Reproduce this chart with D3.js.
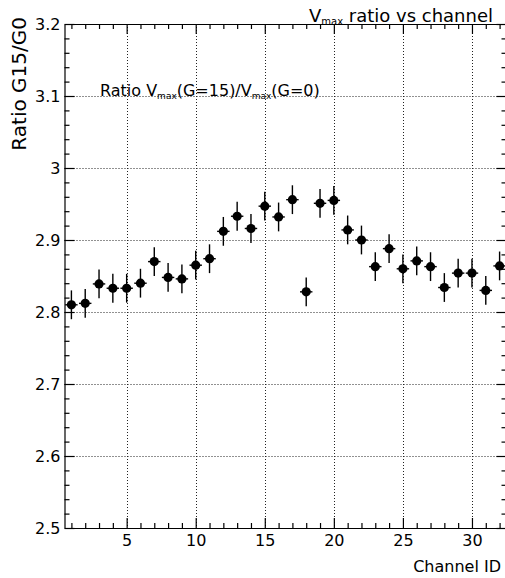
<!DOCTYPE html>
<html>
<head>
<meta charset="utf-8">
<script src="https://cdn.jsdelivr.net/npm/d3@7"></script>
<style>
  body { margin: 0; background: #fff; }
  svg { display: block; }
  text { font-family: "DejaVu Sans", sans-serif; fill: #000; }
</style>
</head>
<body>
<div id="chart-area"></div>
<script>
// channel ids and measured ratio Vmax(G=15)/Vmax(G=0)
let channels = [1, 2, 3, 4, 5, 6, 7, 8, 9, 10, 11, 12, 13, 14, 15, 16,
	17, 18, 19, 20, 21, 22, 23, 24, 25, 26, 27, 28, 29, 30, 31, 32];
let ratios = [2.810, 2.812, 2.839, 2.833, 2.833, 2.840, 2.870, 2.848,
	2.846, 2.865, 2.874, 2.912, 2.933, 2.916, 2.947, 2.932,
	2.956, 2.828, 2.951, 2.955, 2.914, 2.900, 2.863, 2.888,
	2.860, 2.871, 2.863, 2.834, 2.854, 2.854, 2.830, 2.864];
let errors = [0.02, 0.02, 0.02, 0.02, 0.02, 0.02, 0.02, 0.02,
	0.02, 0.02, 0.02, 0.02, 0.02, 0.02, 0.02, 0.02,
	0.02, 0.02, 0.02, 0.02, 0.02, 0.02, 0.02, 0.02,
	0.02, 0.02, 0.02, 0.02, 0.02, 0.02, 0.02, 0.02];
let xHalfWidth = 0.45;

// tick labels
let xMajor = [5, 10, 15, 20, 25, 30];
let xMinor = [1, 2, 3, 4, 6, 7, 8, 9, 11, 12, 13, 14, 16, 17, 18, 19,
	21, 22, 23, 24, 26, 27, 28, 29, 31, 32];
let yMajor = [2.5, 2.6, 2.7, 2.8, 2.9, 3.0, 3.1, 3.2];
let yMinor = [2.52, 2.54, 2.56, 2.58, 2.62, 2.64, 2.66, 2.68, 2.72, 2.74, 2.76, 2.78,
	2.82, 2.84, 2.86, 2.88, 2.92, 2.94, 2.96, 2.98, 3.02, 3.04, 3.06, 3.08,
	3.12, 3.14, 3.16, 3.18];

let W = 505, H = 578;
let frame = {left: 64.5, right: 506.5, top: 24, bottom: 528};

let svg = d3.select("#chart-area")
	.append("svg")
	.attr("width", W)
	.attr("height", H);

let x = d3.scaleLinear().domain([0.5, 32.5]).range([frame.left, frame.right]);
let y = d3.scaleLinear().domain([2.5, 3.2]).range([frame.bottom, frame.top]);

// dotted grid
let grid = svg.append("g")
	.attr("stroke", "#222")
	.attr("stroke-width", 1)
	.attr("stroke-dasharray", "1,2");
grid.selectAll(".gx").data(xMajor).enter().append("line")
	.attr("x1", d => Math.round(x(d)) + 0.5).attr("x2", d => Math.round(x(d)) + 0.5)
	.attr("y1", frame.top).attr("y2", frame.bottom);
grid.selectAll(".gy").data(yMajor.filter(d => d > 2.5 && d < 3.2)).enter().append("line")
	.attr("y1", d => Math.round(y(d)) + 0.5).attr("y2", d => Math.round(y(d)) + 0.5)
	.attr("x1", frame.left).attr("x2", frame.right);

// axes: major ticks 10px, minor 5px, all pointing inward
function addAxis(axisFn, scale, major, minor, transform, labels) {
	let gMin = svg.append("g").attr("transform", transform)
		.call(axisFn(scale).tickValues(minor).tickSize(-5).tickSizeOuter(0).tickFormat(""));
	let gMaj = svg.append("g").attr("transform", transform)
		.call(axisFn(scale).tickValues(major).tickSize(-10).tickSizeOuter(0)
			.tickPadding(labels ? labels.pad : 0)
			.tickFormat(labels ? labels.fmt : ""));
	[gMin, gMaj].forEach(g => {
		g.selectAll("path, line").attr("stroke", "#000").attr("stroke-width", 1.2);
		g.selectAll("text").style("font-size", "16px").style("font-family", "DejaVu Sans");
	});
	gMin.select(".domain").remove();
	return gMaj;
}

addAxis(d3.axisBottom, x, xMajor, xMinor, "translate(0," + frame.bottom + ")", {pad: 7, fmt: d3.format("d")});
addAxis(d3.axisTop, x, xMajor, xMinor, "translate(0," + frame.top + ")", null);
addAxis(d3.axisLeft, y, yMajor, yMinor, "translate(" + frame.left + ",0)", {pad: 4, fmt: d => String(+d.toFixed(1))});
addAxis(d3.axisRight, y, yMajor, yMinor, "translate(" + frame.right + ",0)", null);

// error bars and markers
let pts = channels.map((c, i) => ({c: c, v: ratios[i], e: errors[i]}));
let marks = svg.append("g");
marks.selectAll(".ey").data(pts).enter().append("line")
	.attr("x1", d => x(d.c)).attr("x2", d => x(d.c))
	.attr("y1", d => y(d.v - d.e)).attr("y2", d => y(d.v + d.e))
	.attr("stroke", "#000").attr("stroke-width", 1.4);
marks.selectAll(".ex").data(pts).enter().append("line")
	.attr("x1", d => x(d.c - xHalfWidth)).attr("x2", d => x(d.c + xHalfWidth))
	.attr("y1", d => y(d.v)).attr("y2", d => y(d.v))
	.attr("stroke", "#000").attr("stroke-width", 1.4);
marks.selectAll("circle").data(pts).enter().append("circle")
	.attr("cx", d => x(d.c)).attr("cy", d => y(d.v))
	.attr("r", 4.6).attr("fill", "#000");

// titles
let title = svg.append("text")
	.attr("x", 493).attr("y", 22)
	.attr("text-anchor", "end")
	.style("font-size", "18px");
title.append("tspan").text("V");
title.append("tspan").attr("dy", 3).style("font-size", "10px").text("max");
title.append("tspan").attr("dy", -3).text(" ratio vs channel");

let label = svg.append("text")
	.attr("x", 100).attr("y", 96)
	.style("font-size", "16px");
label.append("tspan").text("Ratio V");
label.append("tspan").attr("dy", 3).style("font-size", "9px").text("max");
label.append("tspan").attr("dy", -3).text("(G=15)/V");
label.append("tspan").attr("dy", 3).style("font-size", "9px").text("max");
label.append("tspan").attr("dy", -3).text("(G=0)");

svg.append("text")
	.attr("transform", "translate(26,17) rotate(-90)")
	.attr("text-anchor", "end")
	.style("font-size", "20px")
	.text("Ratio G15/G0");

svg.append("text")
	.attr("x", 501).attr("y", 572)
	.attr("text-anchor", "end")
	.style("font-size", "16px")
	.text("Channel ID");
</script>
</body>
</html>
